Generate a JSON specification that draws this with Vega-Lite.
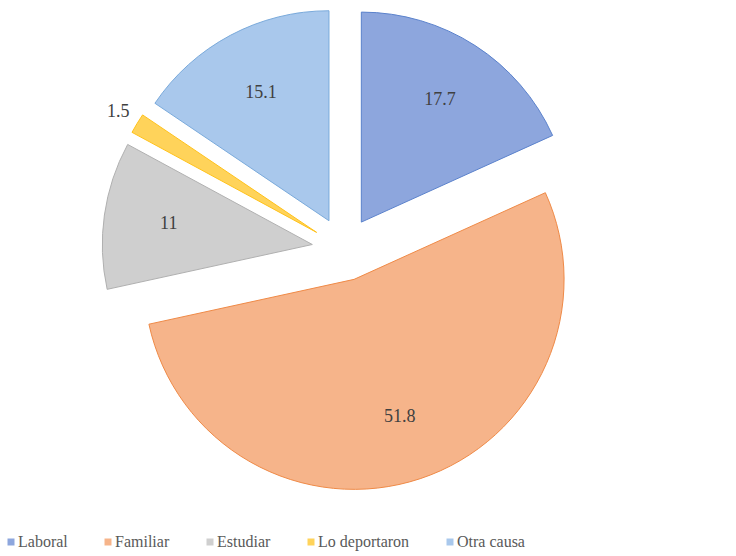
{
  "$schema": "https://vega.github.io/schema/vega-lite/v6.json",
  "width": 736,
  "height": 556,
  "autosize": "none",
  "padding": 0,
  "background": "white",
  "config": {"view": {"stroke": null}},
  "data": {
    "values": [
      {"causa": "Laboral", "valor": 17.7},
      {"causa": "Familiar", "valor": 51.8},
      {"causa": "Estudiar", "valor": 11},
      {"causa": "Lo deportaron", "valor": 1.5},
      {"causa": "Otra causa", "valor": 15.1}
    ]
  },
  "transform": [
    {"window": [{"op": "row_number", "as": "idx"}]},
    {"window": [{"op": "sum", "field": "valor", "as": "cum"}], "sort": [{"field": "idx"}], "frame": [null, 0]},
    {"joinaggregate": [{"op": "sum", "field": "valor", "as": "total"}]},
    {"calculate": "(datum.cum - datum.valor) / datum.total", "as": "t0"},
    {"calculate": "datum.cum / datum.total", "as": "t1"},
    {"calculate": "(datum.cum - datum.valor / 2) / datum.total", "as": "tm"},
    {"calculate": "sin(2 * PI * datum.tm)", "as": "dx"},
    {"calculate": "cos(2 * PI * datum.tm)", "as": "dy"}
  ],
  "encoding": {
    "x": {"field": "dx", "type": "quantitative", "axis": null, "scale": {"domain": [-10.75, 12.25], "zero": false, "nice": false}},
    "y": {"field": "dy", "type": "quantitative", "axis": null, "scale": {"domain": [-9.594, 7.781], "zero": false, "nice": false}}
  },
  "layer": [
    {
      "mark": {"type": "arc", "radius": 210, "strokeWidth": 1},
      "encoding": {
        "theta": {"field": "t0", "type": "quantitative", "stack": null, "scale": {"domain": [0, 1]}},
        "theta2": {"field": "t1"},
        "color": {
          "field": "causa",
          "type": "nominal",
          "scale": {
            "domain": ["Laboral", "Familiar", "Estudiar", "Lo deportaron", "Otra causa"],
            "range": ["#8da6dd", "#f6b48a", "#cfcfcf", "#ffd35a", "#a9c8ec"]
          },
          "legend": {
            "orient": "none",
            "legendX": 3,
            "legendY": 534,
            "direction": "horizontal",
            "title": null,
            "symbolType": "square",
            "symbolSize": 49,
            "symbolStrokeWidth": 0,
            "labelFont": "Liberation Serif, Times New Roman, serif",
            "labelFontSize": 16,
            "labelColor": "#595959",
            "labelOffset": -1,
            "columnPadding": 32
          }
        },
        "stroke": {
          "field": "causa",
          "type": "nominal",
          "scale": {
            "domain": ["Laboral", "Familiar", "Estudiar", "Lo deportaron", "Otra causa"],
            "range": ["#5b82cc", "#ef8a47", "#b0b0b0", "#ffc21a", "#7aaadb"]
          },
          "legend": null
        }
      }
    },
    {
      "transform": [{"filter": "datum.valor >= 5"}],
      "mark": {"type": "text", "radius": 145, "font": "Liberation Serif, Times New Roman, serif", "fontSize": 18, "color": "#404040", "align": "center", "baseline": "middle"},
      "encoding": {
        "theta": {"field": "tm", "type": "quantitative", "stack": null, "scale": {"domain": [0, 1]}},
        "text": {"field": "valor", "type": "quantitative"}
      }
    },
    {
      "transform": [{"filter": "datum.valor < 5"}],
      "mark": {"type": "text", "radius": 232, "font": "Liberation Serif, Times New Roman, serif", "fontSize": 18, "color": "#404040", "align": "center", "baseline": "middle"},
      "encoding": {
        "theta": {"field": "tm", "type": "quantitative", "stack": null, "scale": {"domain": [0, 1]}},
        "text": {"field": "valor", "type": "quantitative"}
      }
    }
  ]
}
